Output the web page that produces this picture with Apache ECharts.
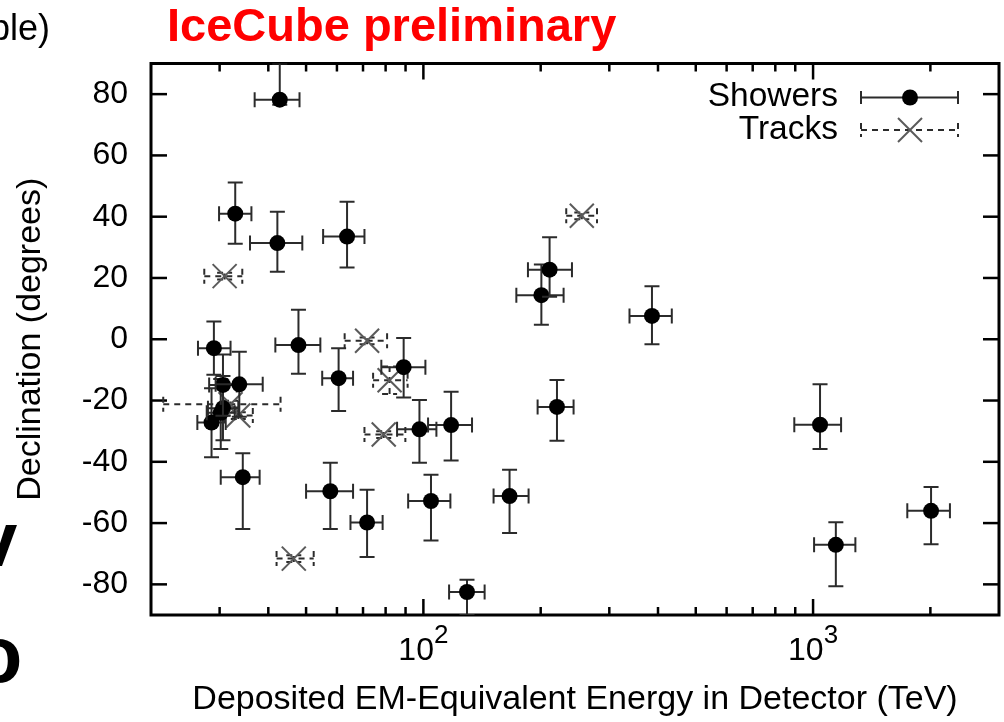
<!DOCTYPE html>
<html>
<head>
<meta charset="utf-8">
<title>IceCube events: deposited energy vs declination</title>
<script src="https://cdn.jsdelivr.net/npm/echarts@6/dist/echarts.min.js"></script>
<style>
  html, body { margin: 0; padding: 0; background: #fff; }
  #chart { width: 1004px; height: 722px; }
</style>
</head>
<body>
<div id="chart"></div>
<script>
// Shower events: deposited energy (TeV) with its lower/upper bounds, declination (deg) with its lower/upper bounds
const showerEnergy   = [47.8, 117.8, 166.4, 28.6, 34.4, 63.7, 97.7, 89.0, 104.6, 1042, 57.7, 30.6, 200.8, 71.7, 1144, 30.2, 220.2, 30.6, 33.7, 210.8, 60.6, 32.9, 129.4, 42.8, 386, 42.2, 2008, 29.0];
const showerEnergyLo = [41.7, 102.8, 151.4, 26.3, 30.2, 55.3, 85.6, 78.0, 91.4, 895, 50.0, 28.0, 173.2, 65.0, 1006, 27.8, 196.4, 28.2, 29.3, 185.5, 55.0, 29.9, 116.4, 36.9, 338, 35.9, 1745, 26.4];
const showerEnergyHi = [54.4, 133.3, 186.2, 31.1, 38.0, 70.6, 108.0, 101.2, 117.3, 1180, 66.0, 33.5, 229.0, 78.6, 1284, 32.8, 242.9, 33.2, 38.7, 240.6, 66.0, 36.2, 143.6, 48.1, 434, 48.9, 2245, 32.0];
const showerDec      = [-1.9, -28.0, -51.2, -27.2, -45.0, 33.5, -29.4, -9.1, -52.8, -27.9, -49.6, -22.5, 14.4, -59.8, -67.1, -24.0, -22.1, -14.9, -14.7, 22.7, -12.7, 41.0, -82.5, 78.2, 7.6, 31.4, -56.0, -2.9];
const showerDecLo    = [-11.3, -39.6, -63.2, -38.5, -61.9, 23.4, -40.3, -19.0, -65.7, -35.8, -61.9, -33.0, 4.7, -71.1, -80.6, -35.8, -33.1, -25.0, -25.3, 13.9, -23.4, 31.2, -90, 76.5, -1.6, 22.0, -66.9, -11.6];
const showerDecHi    = [9.6, -17.1, -42.6, -16.0, -37.2, 44.9, -19.8, 0.4, -44.2, -14.7, -40.3, -12.0, 24.4, -49.1, -59.7, -13.0, -13.3, -5.0, -4.1, 33.3, -2.9, 51.2, -78.5, 90, 17.3, 41.6, -48.2, 5.8];

// Track events, same layout
const trackEnergy   = [79.1, 71.7, 32.0, 255, 81.9, 33.5, 46.5, 30.9];
const trackEnergyLo = [70.6, 62.8, 21.5, 232.6, 74.3, 30.9, 42.0, 27.4];
const trackEnergyHi = [89.9, 80.7, 43.0, 279, 91.1, 36.5, 52.3, 34.3];
const trackDec      = [-31.1, -0.5, -21.2, 40.3, -13.4, -24.9, -71.6, 20.6];
const trackDecLo    = [-32.2, -1.6, -22.3, 39.2, -17.9, -26.0, -72.7, 19.5];
const trackDecHi    = [-30.0, 0.6, -20.1, 41.4, -8.9, -23.8, -70.5, 21.7];

// Axis ticks and labels
const yTickValues = [-80, -60, -40, -20, 0, 20, 40, 60, 80];
const xMajorTicks = [100, 1000];
const xMinorTicks = [30, 40, 50, 60, 70, 80, 90, 200, 300, 400, 500, 600, 700, 800, 900, 2000];
const xTickLabels = { 100: ['10', '2'], 1000: ['10', '3'] };

const FONT = '"Liberation Sans", Arial, Helvetica, sans-serif';
const BAR_COLOR = '#2b2b2b';
const CAP = 7.5;

function rows(e, eLo, eHi, d, dLo, dHi) {
  return e.map((v, i) => [v, d[i], eLo[i], eHi[i], dLo[i], dHi[i]]);
}

function seg(x1, y1, x2, y2, style) {
  return { type: 'line', shape: { x1, y1, x2, y2 }, style };
}

function circleMarker(c) {
  return [{ type: 'circle', shape: { cx: c[0], cy: c[1], r: 8 }, style: { fill: '#000' } }];
}

function crossMarker(c) {
  const h = 12;
  const st = { stroke: '#5a5a5a', lineWidth: 2 };
  return [seg(c[0] - h, c[1] - h, c[0] + h, c[1] + h, st), seg(c[0] - h, c[1] + h, c[0] + h, c[1] - h, st)];
}

// Error bars in both directions, with end caps, plus the point marker
function errorBarRenderer(dash, marker) {
  return function (params, api) {
    const e = api.value(0), d = api.value(1);
    const c = api.coord([e, d]);
    const xl = api.coord([api.value(2), d])[0];
    const xh = api.coord([api.value(3), d])[0];
    const yl = api.coord([e, api.value(4)])[1];
    const yh = api.coord([e, api.value(5)])[1];
    const st = { stroke: BAR_COLOR, lineWidth: 2, lineDash: dash };
    const children = [
      seg(xl, c[1], xh, c[1], st),
      seg(xl, c[1] - CAP, xl, c[1] + CAP, st),
      seg(xh, c[1] - CAP, xh, c[1] + CAP, st),
      seg(c[0], yl, c[0], yh, st),
      seg(c[0] - CAP, yl, c[0] + CAP, yl, st),
      seg(c[0] - CAP, yh, c[0] + CAP, yh, st)
    ].concat(marker(c));
    return { type: 'group', children };
  };
}

// Inward tick marks on both opposite sides of the frame
function tickRenderer(dir, len) {
  return function (params, api) {
    const cs = params.coordSys;
    const st = { stroke: '#000', lineWidth: 2.5 };
    if (dir === 'x') {
      const x = api.coord([api.value(0), 0])[0];
      return { type: 'group', children: [
        seg(x, cs.y + cs.height, x, cs.y + cs.height - len, st),
        seg(x, cs.y, x, cs.y + len, st)
      ] };
    }
    const y = api.coord([100, api.value(1)])[1];
    return { type: 'group', children: [
      seg(cs.x, y, cs.x + len, y, st),
      seg(cs.x + cs.width, y, cs.x + cs.width - len, y, st)
    ] };
  };
}

const chart = echarts.init(document.getElementById('chart'));

const legendLineStyle = { stroke: BAR_COLOR, lineWidth: 2 };
const legendDashStyle = { stroke: BAR_COLOR, lineWidth: 2, lineDash: [6, 5] };

chart.setOption({
  animation: false,
  backgroundColor: '#fff',
  grid: { left: 151, right: 5, top: 63.5, bottom: 103, show: true, borderColor: '#000', borderWidth: 3, backgroundColor: 'transparent' },
  xAxis: {
    type: 'log', logBase: 10, min: 20, max: 3000,
    axisLine: { show: false }, axisTick: { show: false }, splitLine: { show: false },
    axisLabel: {
      margin: 8,
      formatter: v => xTickLabels[Math.round(v)] ? '{b|' + xTickLabels[Math.round(v)][0] + '}{s|' + xTickLabels[Math.round(v)][1] + '}' : '',
      rich: {
        b: { fontSize: 32, fontFamily: FONT, color: '#000' },
        s: { fontSize: 26, fontFamily: FONT, color: '#000', padding: [0, 0, 30, 0] }
      }
    },
    name: 'Deposited EM-Equivalent Energy in Detector (TeV)',
    nameLocation: 'middle', nameGap: 68,
    nameTextStyle: { fontSize: 34, fontFamily: FONT, color: '#000' }
  },
  yAxis: {
    type: 'value', min: -90, max: 90, interval: 10,
    axisLine: { show: false }, axisTick: { show: false }, splitLine: { show: false },
    axisLabel: {
      margin: 23, fontSize: 32, fontFamily: FONT, color: '#000',
      formatter: v => (yTickValues.indexOf(v) >= 0 ? String(v) : '')
    },
    name: 'Declination (degrees)',
    nameLocation: 'middle', nameRotate: 90, nameGap: 103,
    nameTextStyle: { fontSize: 34, fontFamily: FONT, color: '#000' }
  },
  series: [
    { type: 'custom', name: 'minor x ticks', silent: true, renderItem: tickRenderer('x', 8), data: xMinorTicks.map(v => [v, 0]), encode: { x: 0, y: 1 } },
    { type: 'custom', name: 'major x ticks', silent: true, renderItem: tickRenderer('x', 16), data: xMajorTicks.map(v => [v, 0]), encode: { x: 0, y: 1 } },
    { type: 'custom', name: 'y ticks', silent: true, renderItem: tickRenderer('y', 16), data: yTickValues.map(v => [100, v]), encode: { x: 0, y: 1 } },
    {
      type: 'custom', name: 'Tracks', clip: true,
      renderItem: errorBarRenderer([6, 5], crossMarker),
      data: rows(trackEnergy, trackEnergyLo, trackEnergyHi, trackDec, trackDecLo, trackDecHi),
      encode: { x: 0, y: 1 }
    },
    {
      type: 'custom', name: 'Showers', clip: true,
      renderItem: errorBarRenderer(null, circleMarker),
      data: rows(showerEnergy, showerEnergyLo, showerEnergyHi, showerDec, showerDecLo, showerDecHi),
      encode: { x: 0, y: 1 }
    }
  ],
  graphic: [
    { type: 'text', x: 167, y: 28.5, style: { text: 'IceCube preliminary', font: 'bold 47px ' + FONT, fill: '#ff0000', textAlign: 'left', textVerticalAlign: 'middle', align: 'left', verticalAlign: 'middle' } },
    { type: 'text', x: 50, y: 30, style: { text: 'ble)', font: '36px ' + FONT, fill: '#000', textAlign: 'right', textVerticalAlign: 'middle', align: 'right', verticalAlign: 'middle' } },
    { type: 'text', x: -4, y: 545, style: { text: 'v', font: 'bold 77px ' + FONT, fill: '#000', textAlign: 'center', textVerticalAlign: 'middle', align: 'center', verticalAlign: 'middle' } },
    { type: 'text', x: -2, y: 660, style: { text: 'o', font: 'bold 80px ' + FONT, fill: '#000', textAlign: 'center', textVerticalAlign: 'middle', align: 'center', verticalAlign: 'middle' } },
    // legend
    { type: 'text', x: 838, y: 97, style: { text: 'Showers', font: '33.5px ' + FONT, fill: '#000', textAlign: 'right', textVerticalAlign: 'middle', align: 'right', verticalAlign: 'middle' } },
    { type: 'text', x: 838, y: 130, style: { text: 'Tracks', font: '33.5px ' + FONT, fill: '#000', textAlign: 'right', textVerticalAlign: 'middle', align: 'right', verticalAlign: 'middle' } },
    { type: 'line', shape: { x1: 861, y1: 97.5, x2: 958, y2: 97.5 }, style: legendLineStyle },
    { type: 'line', shape: { x1: 861, y1: 91, x2: 861, y2: 104 }, style: legendLineStyle },
    { type: 'line', shape: { x1: 958, y1: 91, x2: 958, y2: 104 }, style: legendLineStyle },
    { type: 'circle', shape: { cx: 910, cy: 97.5, r: 8 }, style: { fill: '#000' } },
    { type: 'line', shape: { x1: 861, y1: 130, x2: 958, y2: 130 }, style: legendDashStyle },
    { type: 'line', shape: { x1: 861, y1: 123, x2: 861, y2: 137 }, style: legendDashStyle },
    { type: 'line', shape: { x1: 958, y1: 123, x2: 958, y2: 137 }, style: legendDashStyle },
    { type: 'line', shape: { x1: 898, y1: 118, x2: 922, y2: 142 }, style: { stroke: '#5a5a5a', lineWidth: 2 } },
    { type: 'line', shape: { x1: 898, y1: 142, x2: 922, y2: 118 }, style: { stroke: '#5a5a5a', lineWidth: 2 } }
  ]
});
</script>
</body>
</html>
